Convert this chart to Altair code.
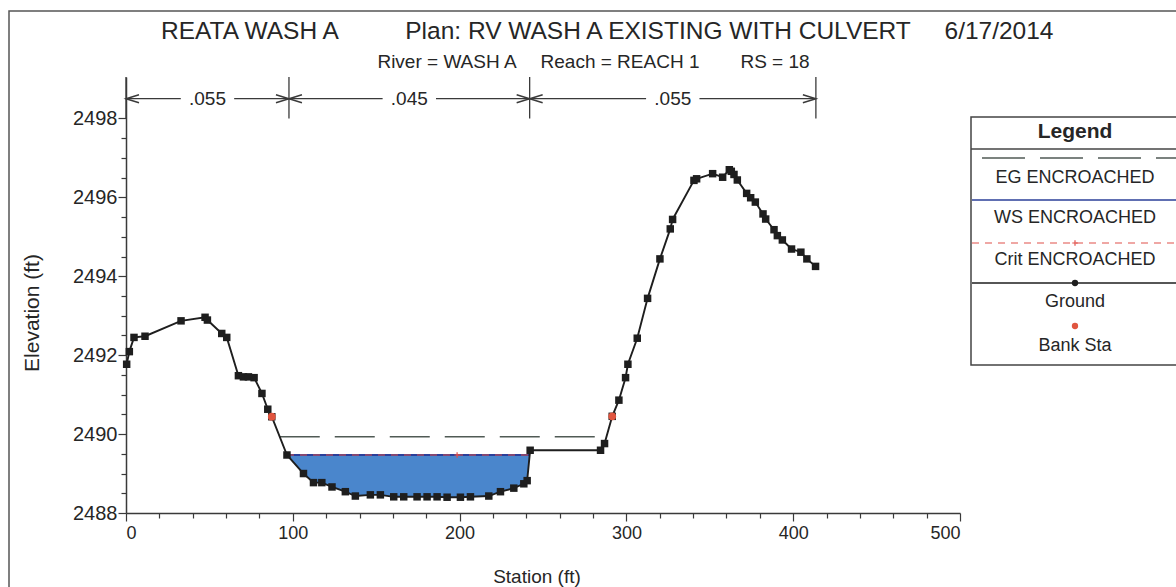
import altair as alt
import pandas as pd

# ---------------- data ----------------
station = [0.4, 2.0, 4.8, 11.4, 33.0, 47.4, 48.8, 57.4, 60.4, 67.4, 70.4, 73.4, 76.8,
           81.5, 85.0, 87.4, 96.5, 106.4, 112.4, 117.4, 123.5, 131.5, 137.5, 146.5,
           152.5, 160.5, 166.5, 174.5, 180.5, 186.5, 192.5, 200.5, 206.5, 217.5, 224.5,
           232.5, 238.5, 240.5, 242.3, 284.5, 286.9, 291.5, 295.5, 299.5, 300.9, 306.5,
           312.7, 320.1, 326.3, 327.7, 340.5, 342.1, 351.7, 357.7, 361.7, 362.9, 364.5,
           366.5, 372.1, 374.5, 377.3, 381.9, 383.5, 388.5, 390.5, 393.5, 399.0, 404.6,
           408.2, 413.4]
elevation = [2491.77, 2492.09, 2492.45, 2492.48, 2492.87, 2492.96, 2492.89, 2492.55,
             2492.45, 2491.48, 2491.45, 2491.45, 2491.43, 2491.03, 2490.63, 2490.44,
             2489.47, 2489.00, 2488.77, 2488.77, 2488.66, 2488.54, 2488.43, 2488.46,
             2488.46, 2488.41, 2488.41, 2488.41, 2488.41, 2488.41, 2488.40, 2488.40,
             2488.41, 2488.43, 2488.54, 2488.63, 2488.74, 2488.82, 2489.59, 2489.59,
             2489.76, 2490.45, 2490.86, 2491.43, 2491.77, 2492.43, 2493.44, 2494.44,
             2495.20, 2495.44, 2496.43, 2496.47, 2496.60, 2496.51, 2496.70, 2496.66,
             2496.58, 2496.44, 2496.10, 2495.99, 2495.88, 2495.58, 2495.45, 2495.18,
             2495.03, 2494.92, 2494.69, 2494.61, 2494.44, 2494.25]
bank_station = [87.4, 291.5]
bank_elevation = [2490.44, 2490.45]
ws_elevation = 2489.47
eg_elevation = 2489.93
crit_marker_station = [198.5]
n_boundaries = [0.0, 97.7, 242.0, 413.6]
n_values = [".055", ".045", ".055"]
x_ticks = list(range(0, 501, 20))
y_ticks = [2488 + 0.5 * i for i in range(21)]

title_parts = ["REATA WASH A", "Plan: RV WASH A EXISTING WITH CULVERT", "6/17/2014"]
subtitle_parts = ["River = WASH A", "Reach = REACH 1", "RS = 18"]
legend_title = "Legend"
legend_labels = ["EG ENCROACHED", "WS ENCROACHED", "Crit ENCROACHED", "Ground", "Bank Sta"]
x_title = "Station (ft)"
y_title = "Elevation (ft)"

# ---------------- styling / layout ----------------
FONT = "Liberation Sans"
TXT = "#262626"
AX = "#3a3a3a"
BLUE_FILL = "#4a86cc"
WS_COLOR = "#2b3f99"
CRIT_COLOR = "#e0504a"
EG_COLOR = "#505a55"
GROUND = "#1e1e1e"
BANK = "#e0553f"

PAD_L, PAD_T, W, H = 126, 77, 834, 436
PAD_R = 1176 - PAD_L - W
PAD_B = 587 - PAD_T - H
X_DOM = [0, 500]
Y_DOM = [2488, 2499.05]
N_TICK_LOW = 2498.0
N_ARROW_Y = 2498.5
N_GAP = 16.0


def crossing(level, side):
    imin = min(range(len(elevation)), key=lambda i: elevation[i])
    step = -1 if side == "left" else 1
    i = imin
    while elevation[i] < level:
        i += step
    j = i - step
    s0, e0, s1, e1 = station[j], elevation[j], station[i], elevation[i]
    return s0 + (level - e0) * (s1 - s0) / (e1 - e0)


ws_l, ws_r = crossing(ws_elevation, "left"), crossing(ws_elevation, "right")
eg_l, eg_r = crossing(eg_elevation, "left"), crossing(eg_elevation, "right")

ground_df = pd.DataFrame({"sta": station, "elev": elevation})
fill_rows = [(ws_l, ws_elevation)] + [
    (s, e) for s, e in zip(station, elevation) if ws_l < s < ws_r
] + [(ws_r, ws_elevation)]
fill_df = pd.DataFrame({"sta": [r[0] for r in fill_rows],
                        "elev": [r[1] for r in fill_rows],
                        "ws": ws_elevation})
ws_df = pd.DataFrame({"sta": [ws_l, ws_r], "elev": [ws_elevation] * 2})
eg_df = pd.DataFrame({"sta": [eg_l, eg_r], "elev": [eg_elevation] * 2})
crit_pt_df = pd.DataFrame({"sta": crit_marker_station, "elev": [ws_elevation]})
bank_df = pd.DataFrame({"sta": bank_station, "elev": bank_elevation})

seg_rows, lab_rows = [], []
for k, lab in enumerate(n_values):
    a, b = n_boundaries[k], n_boundaries[k + 1]
    c = (a + b) / 2
    seg_rows += [(a, c - N_GAP), (c + N_GAP, b)]
    lab_rows.append((c, lab, a, b))
seg_df = pd.DataFrame({"sta": [r[0] for r in seg_rows], "sta2": [r[1] for r in seg_rows],
                       "elev": N_ARROW_Y})
nlab_df = pd.DataFrame({"sta": [r[0] for r in lab_rows], "lab": [r[1] for r in lab_rows],
                        "elev": N_ARROW_Y})
left_arrow_df = pd.DataFrame({"sta": [r[2] for r in lab_rows], "elev": N_ARROW_Y})
right_arrow_df = pd.DataFrame({"sta": [r[3] for r in lab_rows], "elev": N_ARROW_Y})
nbound_df = pd.DataFrame({"sta": n_boundaries, "elev": N_TICK_LOW, "top": Y_DOM[1]})

xscale = alt.Scale(domain=X_DOM, nice=False, zero=False)
yscale = alt.Scale(domain=Y_DOM, nice=False, zero=False)
xaxis = alt.Axis(values=x_ticks, title=None, grid=False,
                 labelExpr="datum.value % 100 === 0 ? datum.label : ''",
                 tickSize={"condition": {"test": "datum.value % 100 === 0", "value": 8}, "value": 5},
                 labelFont=FONT, labelFontSize=18, labelColor=TXT, labelPadding=3,
                 labelOverlap=False, domainColor=AX, tickColor=AX, domainWidth=1.5, tickWidth=1.2)
yaxis = alt.Axis(values=y_ticks, title=None, grid=False,
                 labelExpr="datum.value % 2 === 0 ? format(datum.value, 'd') : ''",
                 tickSize={"condition": {"test": "datum.value % 2 === 0", "value": 8}, "value": 5},
                 labelFont=FONT, labelFontSize=20, labelColor=TXT, labelPadding=1,
                 labelOverlap=False, domainColor=AX, tickColor=AX, domainWidth=1.5, tickWidth=1.2)

X = alt.X("sta:Q", scale=xscale, axis=xaxis)
Y = alt.Y("elev:Q", scale=yscale, axis=yaxis)

one = pd.DataFrame({"k": [0]})


def ptext(txt, x, y, size, weight="normal", angle=0):
    return alt.Chart(one).mark_text(text=txt, font=FONT, fontSize=size, fontWeight=weight,
                                    color=TXT, angle=angle, align="center",
                                    baseline="middle").encode(x=alt.value(x), y=alt.value(y))


def prule(x1, x2, y, color, width=1.5, dash=None):
    kw = dict(color=color, strokeWidth=width)
    if dash:
        kw["strokeDash"] = dash
    return alt.Chart(one).mark_rule(**kw).encode(x=alt.value(x1), x2=alt.value(x2), y=alt.value(y))


layers = []
# outer frame
layers.append(alt.Chart(one).mark_rect(fillOpacity=0, stroke="#555555", strokeWidth=1.5).encode(
    x=alt.value(9 - PAD_L), x2=alt.value(1200 - PAD_L), y=alt.value(11 - PAD_T), y2=alt.value(620)))

# water fill
layers.append(alt.Chart(fill_df).mark_area(color=BLUE_FILL, opacity=1, interpolate="linear").encode(
    x=X, y=Y, y2=alt.Y2("ws")))
# EG
layers.append(alt.Chart(eg_df).mark_line(color=EG_COLOR, strokeWidth=1.5, strokeDash=[40, 15]).encode(x=X, y=Y))
# WS
layers.append(alt.Chart(ws_df).mark_line(color=WS_COLOR, strokeWidth=1.8).encode(x=X, y=Y))
# Crit
layers.append(alt.Chart(ws_df).mark_line(color=CRIT_COLOR, strokeWidth=1.2, strokeDash=[7, 6]).encode(x=X, y=Y))
layers.append(alt.Chart(crit_pt_df).mark_point(shape="M-1,0L1,0M0,-1L0,1", size=30, filled=False,
                                               color=CRIT_COLOR, strokeWidth=1.2, opacity=1).encode(x=X, y=Y))
# Ground
layers.append(alt.Chart(ground_df).mark_line(color=GROUND, strokeWidth=1.9).encode(x=X, y=Y))
layers.append(alt.Chart(ground_df).mark_point(shape="square", filled=True, size=56, color=GROUND,
                                              opacity=1).encode(x=X, y=Y))
# Bank stations
layers.append(alt.Chart(bank_df).mark_point(shape="circle", filled=True, size=60, color=BANK,
                                            opacity=1).encode(x=X, y=Y))

# Manning's n annotations
layers.append(alt.Chart(nbound_df).mark_rule(color=AX, strokeWidth=1.3).encode(
    x=X, y=Y, y2=alt.Y2("top")))
layers.append(alt.Chart(seg_df).mark_rule(color=AX, strokeWidth=1.3).encode(
    x=X, x2=alt.X2("sta2"), y=Y))
layers.append(alt.Chart(left_arrow_df).mark_point(shape="M2.6,-0.8L0,0L2.6,0.8", size=100, filled=False,
                                                  color=AX, strokeWidth=1.5, opacity=1).encode(x=X, y=Y))
layers.append(alt.Chart(right_arrow_df).mark_point(shape="M-2.6,-0.8L0,0L-2.6,0.8", size=100, filled=False,
                                                   color=AX, strokeWidth=1.5, opacity=1).encode(x=X, y=Y))
layers.append(alt.Chart(nlab_df).mark_text(font=FONT, fontSize=19, color=TXT, baseline="middle").encode(
    x=X, y=Y, text="lab:N"))

# titles
for txt, cx in zip(title_parts, [250, 658, 999]):
    layers.append(ptext(txt, cx - PAD_L, 32 - PAD_T, 24.5))
for txt, cx in zip(subtitle_parts, [447, 620, 775]):
    layers.append(ptext(txt, cx - PAD_L, 62 - PAD_T, 19))
layers.append(ptext(y_title, 33 - PAD_L, 313 - PAD_T, 21, angle=270))
layers.append(ptext(x_title, 537 - PAD_L, 577 - PAD_T, 19))

# legend box
LX0, LX1 = 971 - PAD_L, 1200 - PAD_L
LCX = 1075 - PAD_L
layers.append(alt.Chart(one).mark_rect(fill="white", stroke="#444444", strokeWidth=1.5).encode(
    x=alt.value(LX0), x2=alt.value(LX1), y=alt.value(117 - PAD_T), y2=alt.value(365 - PAD_T)))
layers.append(prule(LX0, LX1, 149 - PAD_T, "#444444", 1.5))
layers.append(ptext(legend_title, LCX, 132 - PAD_T, 21, weight="bold"))
layers.append(prule(982 - PAD_L, LX1, 158 - PAD_T, EG_COLOR, 1.5, [43, 15]))
layers.append(ptext(legend_labels[0], LCX, 178 - PAD_T, 18))
layers.append(prule(972 - PAD_L, LX1, 200 - PAD_T, WS_COLOR, 1.5))
layers.append(ptext(legend_labels[1], LCX, 218 - PAD_T, 18))
layers.append(prule(972 - PAD_L, LX1, 243 - PAD_T, CRIT_COLOR, 1.2, [7, 6]))
layers.append(alt.Chart(one).mark_point(shape="M-1,0L1,0M0,-1L0,1", size=30, filled=False, color=CRIT_COLOR,
                                        strokeWidth=1.2, opacity=1).encode(x=alt.value(LCX), y=alt.value(243 - PAD_T)))
layers.append(ptext(legend_labels[2], LCX, 260 - PAD_T, 18))
layers.append(prule(972 - PAD_L, LX1, 283 - PAD_T, GROUND, 1.5))
layers.append(alt.Chart(one).mark_point(shape="circle", filled=True, size=40, color=GROUND, opacity=1).encode(
    x=alt.value(LCX), y=alt.value(283 - PAD_T)))
layers.append(ptext(legend_labels[3], LCX, 302 - PAD_T, 18))
layers.append(alt.Chart(one).mark_point(shape="circle", filled=True, size=40, color=BANK, opacity=1).encode(
    x=alt.value(LCX), y=alt.value(326 - PAD_T)))
layers.append(ptext(legend_labels[4], LCX, 346 - PAD_T, 18))

chart = alt.layer(*layers).properties(
    width=W, height=H,
    padding={"left": PAD_L, "top": PAD_T, "right": PAD_R, "bottom": PAD_B},
    autosize=alt.AutoSizeParams(type="none"),
    background="white",
).configure_view(strokeWidth=0)

chart.save("out.html", embed_options={"renderer": "svg", "actions": False})
